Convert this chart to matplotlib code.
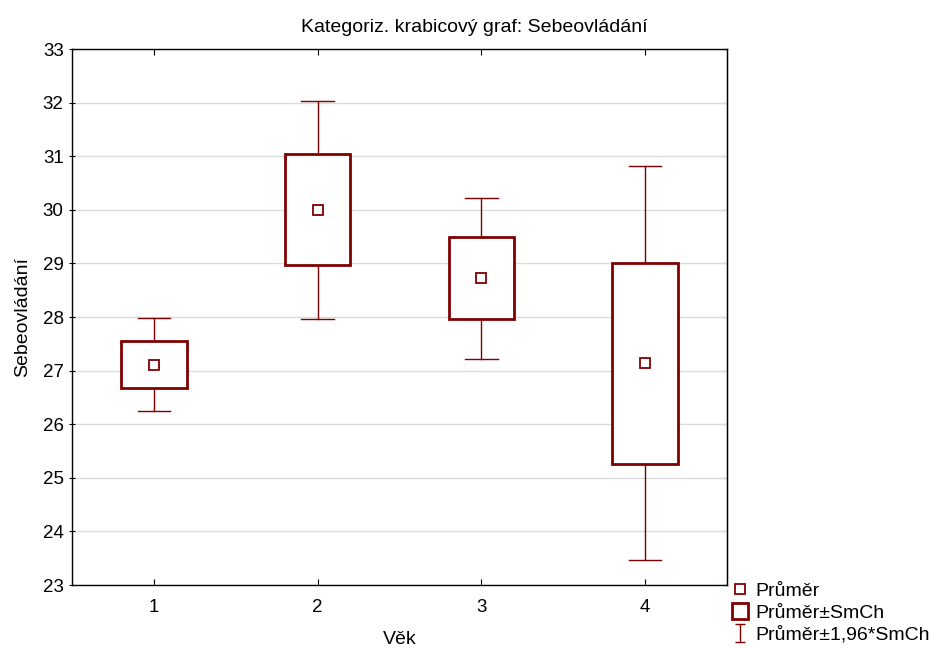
import numpy as np
import matplotlib
matplotlib.use('Agg')
import matplotlib.pyplot as plt
from matplotlib.patches import Rectangle
from matplotlib.lines import Line2D
from matplotlib.path import Path

plt.rcParams['font.family'] = ['Liberation Sans', 'DejaVu Sans']

# skupiny veku, prumery a smerodatne chyby
groups = [1, 2, 3, 4]
means = [27.11, 30.0, 28.72, 27.14]
se = [0.44, 1.035, 0.765, 1.875]

col = '#800000'
box_w = 0.4
cap_w = 0.2

fig = plt.figure(figsize=(9.32, 6.48), dpi=100)
ax = fig.add_axes([72/932, 1 - 585/648, (727 - 72)/932, (585 - 49)/648])

for g, m, s in zip(groups, means, se):
    lo, hi = m - s, m + s
    wlo, whi = m - 1.96*s, m + 1.96*s
    # whiskers +-1.96*SE
    ax.plot([g, g], [hi, whi], color=col, lw=1, zorder=3)
    ax.plot([g, g], [wlo, lo], color=col, lw=1, zorder=3)
    ax.plot([g - cap_w/2, g + cap_w/2], [whi, whi], color=col, lw=1, zorder=3)
    ax.plot([g - cap_w/2, g + cap_w/2], [wlo, wlo], color=col, lw=1, zorder=3)
    # box +-SE
    ax.add_patch(Rectangle((g - box_w/2, lo), box_w, hi - lo, facecolor='white',
                           edgecolor=col, lw=2, zorder=4))
    # mean
    ax.plot([g], [m], marker='s', ms=7, mfc='white', mec=col, mew=1.3, zorder=5)

ax.set_xlim(0.5, 4.5)
ax.set_ylim(23, 33)
ax.set_xticks(groups)
ax.set_yticks(np.arange(23, 34, 1))
ax.yaxis.grid(True, color='#dcdcdc', lw=1)
ax.set_axisbelow(True)
ax.tick_params(axis='y', direction='inout', length=5, labelsize=13.5)
ax.tick_params(axis='x', direction='in', length=4, labelsize=13.5, top=True, pad=10)
for sp in ax.spines.values():
    sp.set_linewidth(1)

# vnitrni znacky na prave ose
ry = ax.secondary_yaxis('right')
ry.set_yticks(np.arange(23, 34, 1))
ry.tick_params(direction='in', length=3, labelright=False)

fig.text(474/932, 1 - 27/648, 'Kategoriz. krabicový graf: Sebeovládání',
         fontsize=14, ha='center', va='center')
ax.set_xlabel('Věk', fontsize=14, labelpad=11)
ax.set_ylabel('Sebeovládání', fontsize=14, labelpad=8)

# legenda
ibar = Path([(-0.5, 1), (0.5, 1), (0, 1), (0, -1), (-0.5, -1), (0.5, -1)],
            [Path.MOVETO, Path.LINETO, Path.MOVETO, Path.LINETO, Path.MOVETO, Path.LINETO])
handles = [
    Line2D([], [], ls='none', marker='s', ms=7, mfc='white', mec=col, mew=1.3),
    Line2D([], [], ls='none', marker='s', ms=12, mfc='white', mec=col, mew=2),
    Line2D([], [], ls='none', marker=ibar, ms=13, mfc='none', mec=col, mew=1),
]
labels = ['Průměr', 'Průměr±SmCh', 'Průměr±1,96*SmCh']
fig.legend(handles, labels, loc='upper left', bbox_to_anchor=(731/932, 1 - 582/648),
           frameon=False, fontsize=14, handlelength=0.9, handletextpad=0.35,
           labelspacing=0.22, borderaxespad=0, borderpad=0)

fig.savefig('out.png', dpi=100)
